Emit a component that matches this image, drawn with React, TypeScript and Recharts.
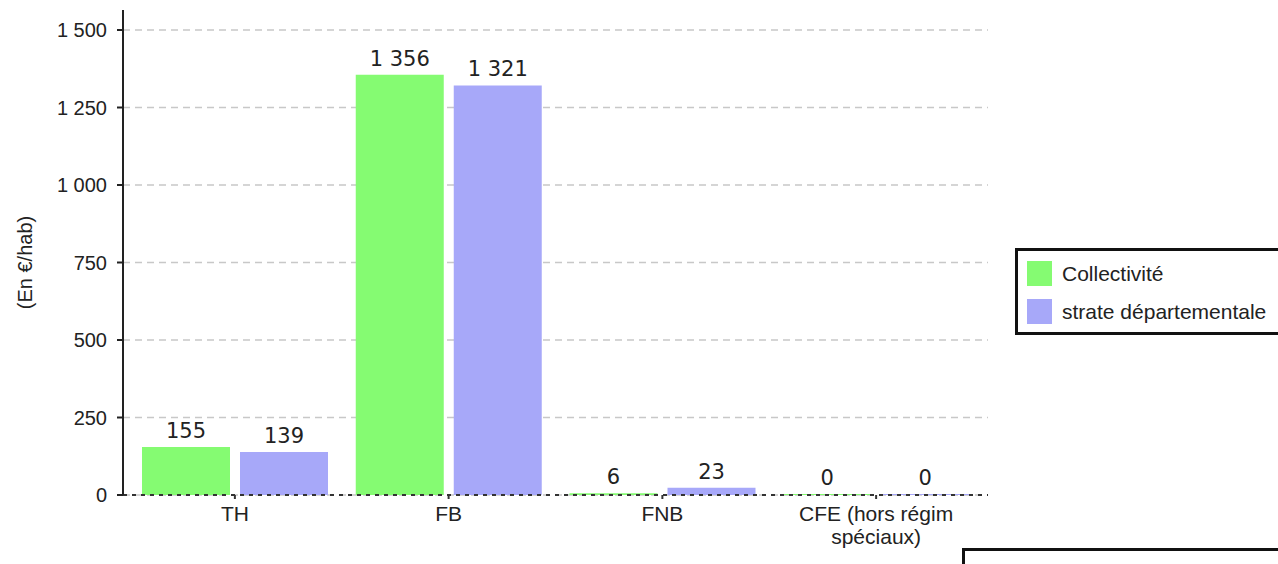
import {
  BarChart,
  Bar,
  XAxis,
  YAxis,
  CartesianGrid,
  Legend,
  LabelList,
} from "recharts";

const categories = ["TH", "FB", "FNB", "CFE (hors régim|spéciaux)"];
const collectivite = [155, 1356, 6, 0];
const strate = [139, 1321, 23, 0];
const yTicks = [0, 250, 500, 750, 1000, 1250, 1500];

const GREEN = "#85fb72";
const PURPLE = "#a7a8f9";

const data = categories.map((name, i) => ({
  name,
  collectivite: collectivite[i],
  strate: strate[i],
}));

const fmt = (v: number) =>
  String(v).replace(/\B(?=(\d{3})+(?!\d))/g, " ");

const XTick = ({ x, y, payload }: any) => {
  const lines = String(payload.value).split("|");
  return (
    <text
      x={x}
      y={y}
      textAnchor="middle"
      fill="#222"
      fontSize={21}
      fontFamily="Liberation Sans, Arial, sans-serif"
    >
      {lines.map((l, i) => (
        <tspan key={i} x={x} dy={i === 0 ? 22 : 23}>
          {l}
        </tspan>
      ))}
    </text>
  );
};

const YLabel = ({ viewBox }: any) => {
  const cy = viewBox.y + viewBox.height / 2 + 10;
  return (
    <text
      x={25}
      y={cy}
      transform={`rotate(-90 25 ${cy})`}
      textAnchor="middle"
      dominantBaseline="central"
      fill="#222"
      fontSize={20}
      fontFamily="Liberation Sans, Arial, sans-serif"
    >
      (En €/hab)
    </text>
  );
};

const LegendBox = () => (
  <div
    style={{
      border: "3px solid #111",
      width: 280,
      height: 87,
      boxSizing: "border-box",
      padding: "10px 0 0 9px",
      fontFamily: "Liberation Sans, Arial, sans-serif",
      fontSize: 21,
      color: "#222",
      background: "#fff",
    }}
  >
    {[
      { name: "Collectivité", color: GREEN },
      { name: "strate départementale", color: PURPLE },
    ].map((it) => (
      <div
        key={it.name}
        style={{ display: "flex", alignItems: "center", height: 25, marginBottom: 13, whiteSpace: "nowrap" }}
      >
        <span style={{ width: 25, height: 25, background: it.color, display: "inline-block", marginRight: 10 }} />
        {it.name}
      </div>
    ))}
  </div>
);

export default function App() {
  return (
    <div style={{ position: "absolute", left: 0, top: 0, width: 1278, height: 564, overflow: "hidden", background: "#fff" }}>
      <BarChart
        width={1278}
        height={564}
        data={data}
        margin={{ top: 10, right: 290, left: 0, bottom: 19 }}
        barSize={88}
        barGap={10}
      >
        <CartesianGrid
          vertical={false}
          horizontalValues={yTicks}
          stroke="#c8c8c8"
          strokeDasharray="7 5"
          strokeWidth={1.5}
        />
        <XAxis
          dataKey="name"
          height={50}
          padding={{ left: 5, right: 5 }}
          tick={<XTick />}
          tickSize={4}
          tickMargin={0}
          interval={0}
          stroke="#333"
          axisLine={{ stroke: "#333", strokeDasharray: "4 5", strokeWidth: 2 }}
          tickLine={{ stroke: "#333", strokeWidth: 2 }}
        />
        <YAxis
          width={123}
          domain={[0, 1500]}
          ticks={yTicks}
          padding={{ top: 20, bottom: 0 }}
          tickFormatter={fmt}
          tickSize={6}
          tickMargin={10}
          interval={0}
          axisLine={{ stroke: "#222", strokeWidth: 2 }}
          tickLine={{ stroke: "#222", strokeWidth: 2 }}
          tick={{ fill: "#222", fontSize: 20, fontFamily: "Liberation Sans, Arial, sans-serif" }}
          label={<YLabel />}
        />
        <Legend
          layout="horizontal"
          verticalAlign="middle"
          align="center"
          content={<LegendBox />}
          wrapperStyle={{ position: "absolute", left: 1015, top: 248, width: 280, height: 87 }}
        />
        <Bar dataKey="collectivite" name="Collectivité" fill={GREEN} minPointSize={1} isAnimationActive={false}>
          <LabelList
            dataKey="collectivite"
            position="top"
            offset={9}
            formatter={(v: any) => fmt(Number(v))}
            style={{ fill: "#222", fontSize: 21, fontFamily: "DejaVu Sans, sans-serif" }}
          />
        </Bar>
        <Bar dataKey="strate" name="strate départementale" fill={PURPLE} minPointSize={1} isAnimationActive={false}>
          <LabelList
            dataKey="strate"
            position="top"
            offset={9}
            formatter={(v: any) => fmt(Number(v))}
            style={{ fill: "#222", fontSize: 21, fontFamily: "DejaVu Sans, sans-serif" }}
          />
        </Bar>
      </BarChart>
      <div
        style={{
          position: "absolute",
          left: 962,
          top: 548,
          width: 330,
          height: 40,
          borderTop: "3px solid #111",
          borderLeft: "3px solid #111",
        }}
      />
    </div>
  );
}
